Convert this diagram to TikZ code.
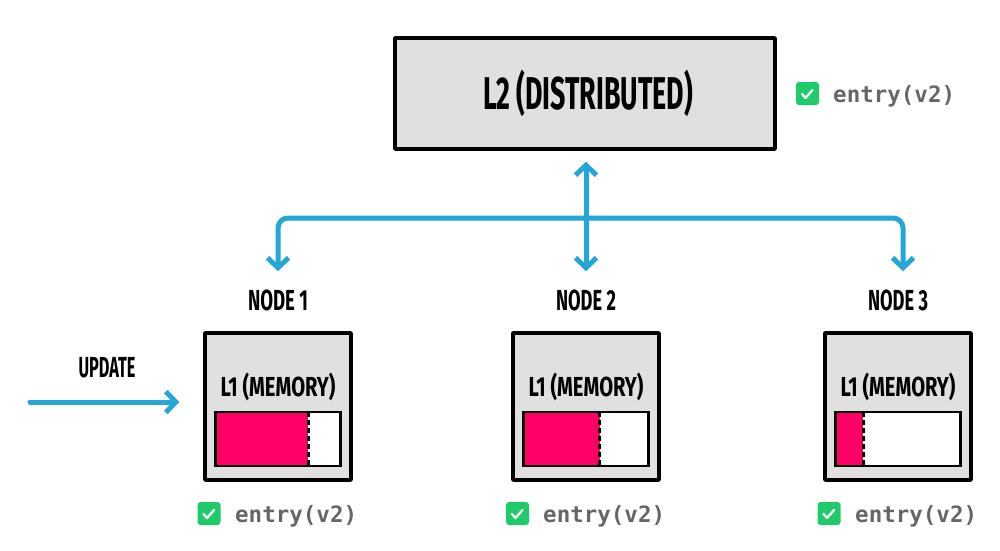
\documentclass[tikz,border=0pt]{standalone}
\usepackage{fontspec}
\setmainfont{Fira Sans}
\newfontfamily\entryfont{DejaVu Sans Mono}
\usetikzlibrary{arrows.meta,calc}
\definecolor{boxgray}{HTML}{E0E0E0}
\definecolor{hotpink}{HTML}{FF0066}
\definecolor{okgreen}{HTML}{1FCB69}
\definecolor{flowblue}{HTML}{25A6D9}
\definecolor{textgray}{HTML}{666666}
\newcommand{\handtxt}[3]{\resizebox{#1pt}{\height}{\fontsize{#2}{#2}\selectfont\bfseries #3}}
\tikzset{
  flowtip/.tip={Straight Barb[length=10pt,width=21pt]},
  sketchbox/.style={draw=black, line width=3.5pt, fill=boxgray, inner sep=0pt, line join=round},
  membar/.style={draw=black, line width=2.5pt, fill=white, inner sep=0pt, outer sep=0pt,
                 minimum width=125pt, minimum height=54pt},
  handlabel/.style={inner sep=0pt, anchor=base},
  flow/.style={draw=flowblue, line width=5pt, line cap=round, line join=round},
  ckbox/.style={fill=okgreen, rounded corners=3pt, minimum width=23pt, minimum height=23pt, inner sep=0pt},
  ckmark/.style={draw=white, line width=2.3pt, line cap=round, line join=round},
  entrytext/.style={inner sep=0pt, anchor=base west, text=textgray,
                    font=\entryfont\bfseries\fontsize{22.5}{22.5}\selectfont},
  divider/.style={draw=black, line width=3pt, dash pattern=on 5pt off 3pt}
}
\begin{document}
\begin{tikzpicture}[x=1pt,y=-1pt]
\useasboundingbox (0,0) rectangle (1000,550);

% L2 box
\node[sketchbox, minimum width=380pt, minimum height=111pt] (l2) at (585,93.5) {};
\node[handlabel] (l2t) at (588,109) {\handtxt{210}{46}{L2 (DISTRIBUTED)}};
\node[ckbox] (c0) at (807.5,93.5) {};
\draw[ckmark] ($(c0.center)+(-5.5,0.5)$) -- ++(3.5,4) -- ++(7,-8);
\node[entrytext] (e0) at (833,102) {entry(v2)};

% node boxes
\foreach \i/\x/\f/\cx/\tx in {1/278/0.74/209/235, 2/586/0.61/517.5/543, 3/898/0.22/829/855}{
  \node[sketchbox, minimum width=146pt, minimum height=147pt] (n\i) at (\x,406.5) {};
  \node[handlabel] (lab\i) at (\x,310) {\handtxt{60}{29}{NODE \i}};
  \node[handlabel] (mem\i) at (\x,396) {\handtxt{115}{27.5}{L1 (MEMORY)}};
  \node[membar] (b\i) at ($(n\i.center)+(0,32.5)$) {};
  \fill[hotpink] (b\i.south west) rectangle ($(b\i.north west)!\f!(b\i.north east)$);
  \draw[divider] ($(b\i.north west)!\f!(b\i.north east)$) -- ($(b\i.south west)!\f!(b\i.south east)$);
  \draw[black, line width=2.5pt] (b\i.south west) rectangle (b\i.north east);
  \node[ckbox] (c\i) at (\cx,513.5) {};
  \draw[ckmark] ($(c\i.center)+(-5.5,0.5)$) -- ++(3.5,4) -- ++(7,-8);
  \node[entrytext] (e\i) at (\tx,522) {entry(v2)};
}

% connectors
\coordinate (bus) at (589,218);
\draw[flow, flowtip-flowtip, shorten <=11pt, shorten >=18pt] (lab2.north |- l2.south) -- (lab2.north);
\draw[flow, -flowtip, rounded corners=10pt, shorten >=18pt] (bus) -| (lab1.north);
\draw[flow, -flowtip, rounded corners=10pt, shorten >=18pt] (bus) -| ([xshift=5pt]lab3.north);

% update
\node[handlabel] (upd) at (107,377) {\handtxt{57}{29}{UPDATE}};
\coordinate (ustart) at (30,402);
\draw[flow, -flowtip, shorten >=24pt] (ustart) -- (ustart -| n1.west);
\end{tikzpicture}
\end{document}
